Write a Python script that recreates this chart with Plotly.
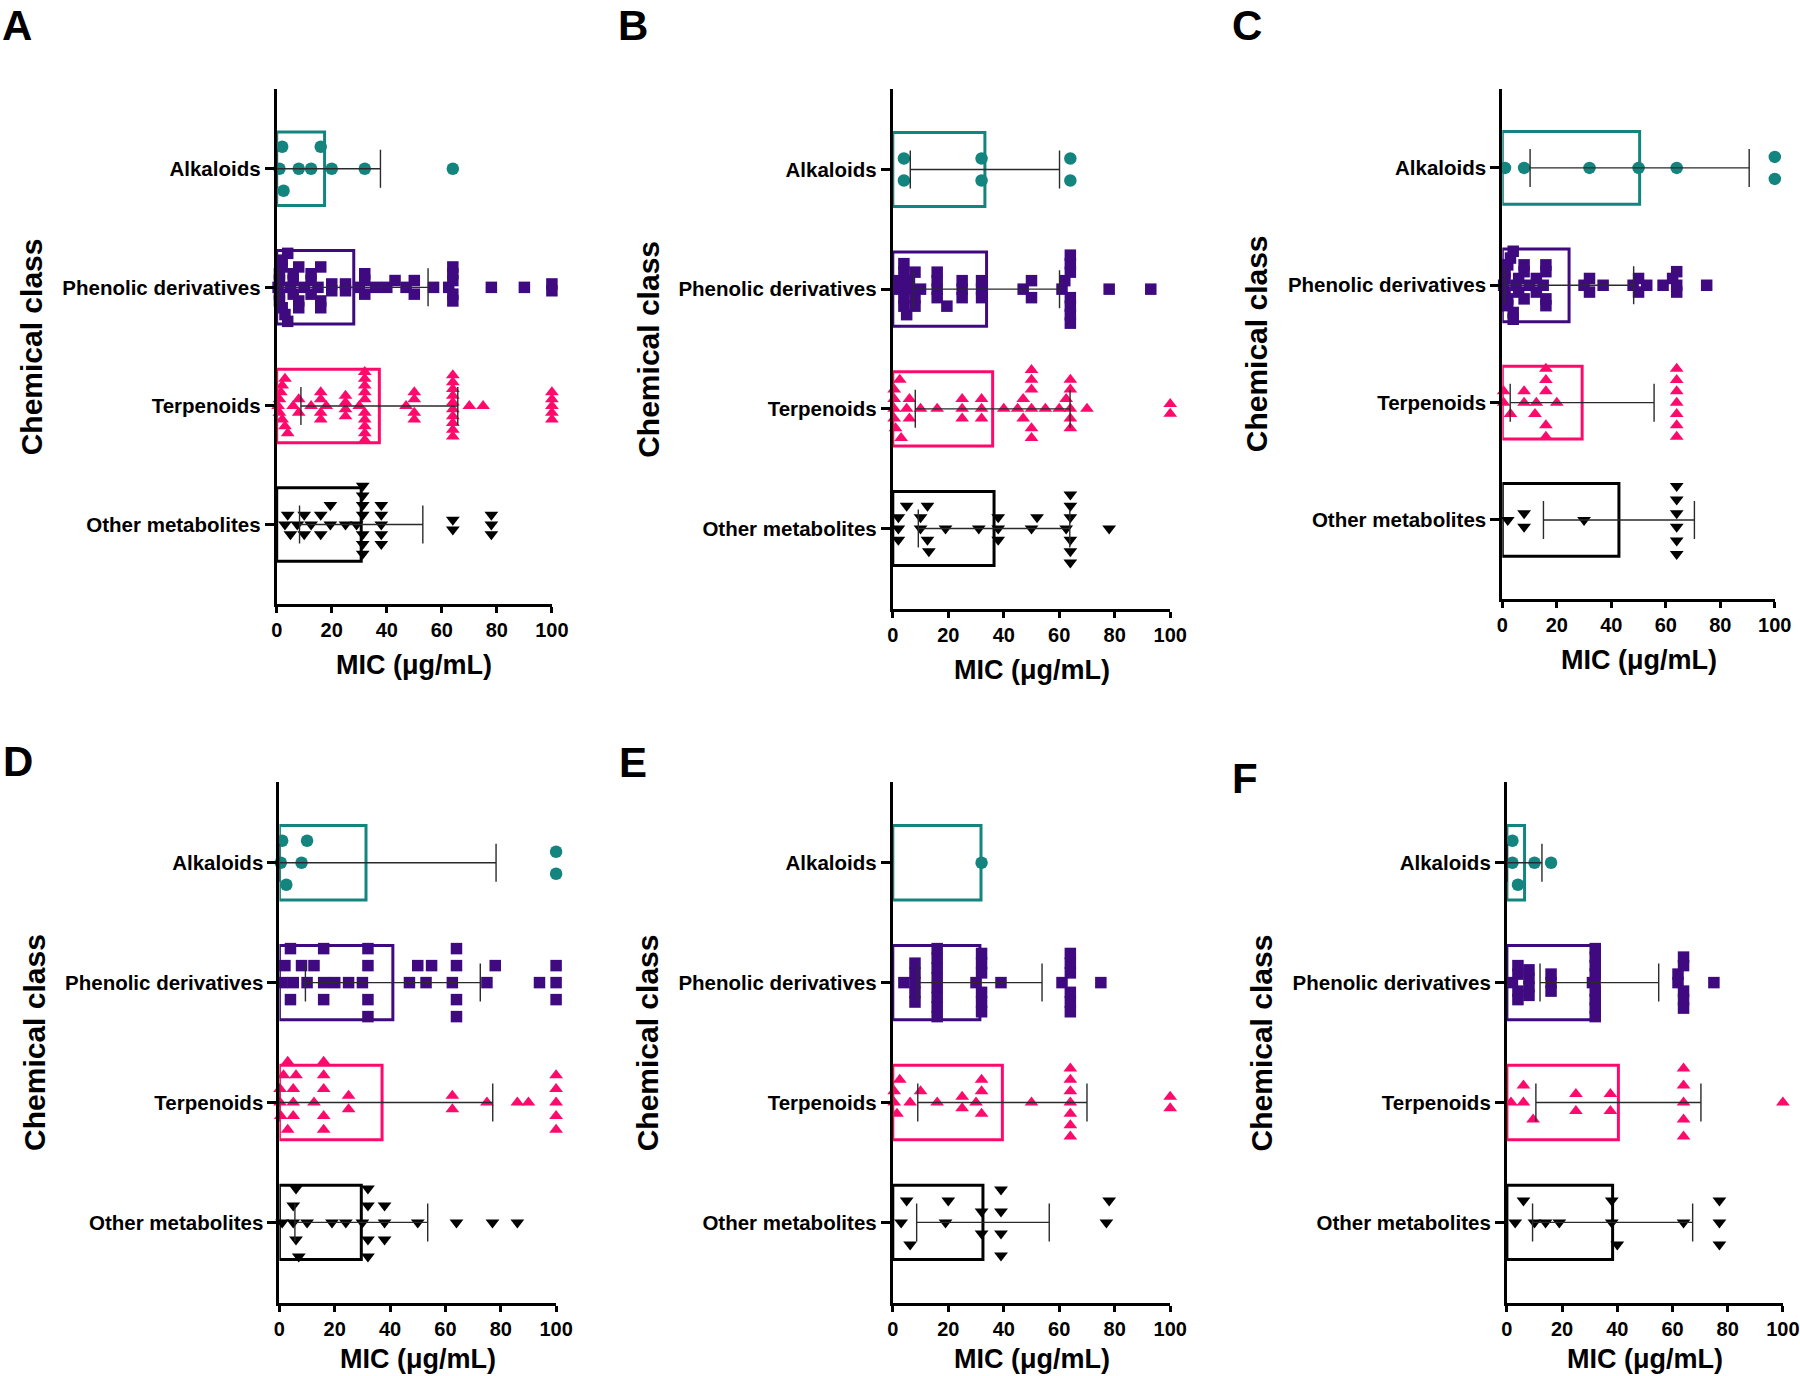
import plotly.graph_objects as go

W, H = 1800, 1376

categories = ["Alkaloids", "Phenolic derivatives", "Terpenoids", "Other metabolites"]
x_ticks = [0, 20, 40, 60, 80, 100]
panel_labels = ["A", "B", "C", "D", "E", "F"]
x_title = "MIC (μg/mL)"
y_title = "Chemical class"

# ---------------- data (MIC values, µg/mL) ----------------
A_alkaloids = [2, 16, 2.5, 8, 12.5, 20, 32, 64, 1]
A_phenolics = [0.5, 1, 1, 1, 1, 2, 2, 2, 3, 4, 4, 5, 6, 6, 6, 8, 8, 8, 10, 12.5, 12.5, 12.5, 15, 16, 16, 16,
               20, 20, 25, 25, 30, 32, 32, 32, 36, 40, 43, 47, 50, 50, 57, 62.5, 64, 64, 64, 64, 64, 78, 90, 100, 100]
A_terpenoids = [0.5, 1, 1, 1.5, 2, 2, 3, 3, 4, 6, 8, 8, 12.5, 16, 16, 16, 16, 18, 25, 25, 25, 25, 30,
                32, 32, 32, 32, 32, 32, 32, 32, 32, 32, 47, 50, 50, 50, 50,
                64, 64, 64, 64, 64, 64, 64, 64, 64, 64, 70, 75, 100, 100, 100, 100, 100]
A_others = [3, 5, 7.5, 4, 10, 10, 12.5, 16, 16, 19.5, 19.5, 25, 29, 31.25, 31.25, 31.25, 31.25, 31.25, 31.25,
            31.25, 38, 38, 38, 38, 38, 64, 64, 78, 78, 78]
A_mean = [17.4, 28.0, 37.3, 30.7]
A_sd = [20.3, 27.0, 28.5, 22.4]

B_alkaloids = [4, 4, 32, 32, 64, 64]
B_phenolics = [2, 2, 4, 4, 4, 4, 5, 6, 6, 8, 8, 8, 10, 16, 16, 16, 16, 19.5, 25, 25, 25, 32, 32, 32, 47, 50, 50,
               61, 62, 64, 64, 64, 64, 64, 64, 64, 78, 93]
B_terpenoids = [0.5, 0.5, 0.5, 0.5, 1, 2.5, 3, 5, 6, 6, 10, 16, 25, 25, 25, 32, 32, 32, 40, 45, 47, 47,
                50, 50, 50, 50, 50, 50, 55, 60, 62.5, 64, 64, 64, 64, 64, 70, 100, 100]
B_others = [2, 2, 2, 5, 10, 10, 12.5, 12.5, 13, 19, 31, 38, 38, 38, 50, 52, 62.5, 64, 64, 64, 64, 64, 64, 78]
B_mean = [33.2, 33.8, 36.0, 36.5]
B_sd = [26.9, 26.3, 27.9, 27.3]

C_alkaloids = [1, 8, 32, 50, 64, 100, 100]
C_phenolics = [0.5, 1, 1, 1, 2, 2, 2, 3, 4, 4, 4, 5, 6, 6, 8, 8, 8, 10, 12.5, 12.5, 15, 16, 16, 16, 16,
               30, 32, 32, 37, 48, 50, 50, 53, 59, 62.5, 64, 64, 64, 75]
C_terpenoids = [0.5, 0.5, 3, 8, 8, 12, 12.5, 16, 16, 16, 16, 16, 20, 64, 64, 64, 64, 64, 64, 64]
C_others = [2, 8, 8, 30, 64, 64, 64, 64, 64, 64]
C_mean = [50.4, 24.5, 29.3, 42.8]
C_sd = [40.2, 23.7, 26.4, 27.7]

D_alkaloids = [1, 2.5, 8, 0.5, 10, 100, 100]
D_phenolics = [1, 8, 16, 32, 64, 4, 12.5, 20, 32, 50, 62.5, 100, 4, 10, 25, 30, 47, 55, 64, 75, 94, 100,
               5, 16, 32, 53, 64, 78, 100, 2, 16, 32, 64]
D_terpenoids = [1.5, 6, 16, 0.25, 5, 3, 16, 25, 0.5, 5, 12.5, 16, 25, 3, 16, 0.25, 5, 16, 62.5, 62.5, 75, 86,
                90, 100, 100, 100, 100, 100]
D_others = [6, 32, 5, 10, 32, 38, 6, 19, 24, 32, 38, 50, 1, 5, 30, 38, 7, 32, 64, 77, 86]
D_mean = [31.3, 41.0, 37.1, 29.6]
D_sd = [47.0, 31.6, 40.0, 24.0]

E_alkaloids = [32]
E_phenolics = [4, 8, 8, 8, 8, 8, 16, 16, 16, 16, 16, 16, 16, 16, 30, 32, 32, 32, 32, 32, 32, 39, 61,
               64, 64, 64, 64, 64, 64, 75]
E_terpenoids = [0.5, 2.5, 1.5, 6.25, 0.5, 10, 16, 25, 25, 30, 32, 32, 32, 50, 64, 64, 64, 64, 64, 64, 64, 100, 100]
E_others = [5, 6.25, 3, 19, 20, 32, 32, 39, 39, 39, 39, 78, 77]
E_mean = [31.8, 31.4, 39.5, 32.5]
E_sd = [0, 22.4, 30.5, 23.9]

F_alkaloids = [2, 4, 10, 16, 2]
F_phenolics = [2, 4, 4, 4, 4, 8, 8, 8, 8, 16, 16, 16, 31, 32, 32, 32, 32, 32, 32, 32, 32, 62, 62,
               64, 64, 64, 64, 64, 75]
F_terpenoids = [1.5, 6, 6, 9.5, 25, 25, 37.5, 37.5, 64, 64, 64, 64, 64, 100]
F_others = [6, 10, 14, 19, 3, 40, 38, 38, 64, 77, 77, 77]
F_mean = [6.4, 33.5, 40.4, 38.3]
F_sd = [6.3, 21.5, 29.9, 29.0]

panels = [
    ([A_alkaloids, A_phenolics, A_terpenoids, A_others], A_mean, A_sd),
    ([B_alkaloids, B_phenolics, B_terpenoids, B_others], B_mean, B_sd),
    ([C_alkaloids, C_phenolics, C_terpenoids, C_others], C_mean, C_sd),
    ([D_alkaloids, D_phenolics, D_terpenoids, D_others], D_mean, D_sd),
    ([E_alkaloids, E_phenolics, E_terpenoids, E_others], E_mean, E_sd),
    ([F_alkaloids, F_phenolics, F_terpenoids, F_others], F_mean, F_sd),
]

# ---------------- styling / layout ----------------
colors = ["#14847e", "#3f0a80", "#ff0a6c", "#000000"]
symbols = ["circle", "square", "triangle-up", "triangle-down"]
msizes = [12.5, 11.5, 12, 12]
FONT = "Liberation Sans, Arial, Helvetica, sans-serif"

# plot areas in pixels: (x_left, x_right, y_top, y_bottom)
geom = [
    (276.7, 551.9, 89.3, 604.0),
    (892.8, 1170.2, 89.3, 608.7),
    (1502.3, 1774.8, 89.3, 598.6),
    (279.4, 556.1, 782.4, 1302.7),
    (892.8, 1170.2, 782.4, 1302.7),
    (1506.9, 1782.9, 782.4, 1302.7),
]
# panel letters: (left x, top y of text box) in pixels
letter_pos = [(0, 0), (616, 0), (1230, 0), (1, 736), (617, 737), (1230, 753)]
# x-title distance below the x axis (px)
xtitle_gap = [61, 61, 61, 56, 56, 56]
Y_LO, Y_HI = -0.67, 3.67


def px(xp):
    return xp / W


def py(yp):
    return 1 - yp / H


def swarm_rows(vals, ppu, mpx=11):
    """Deterministic beeswarm: rows of stacked markers (positive = up)."""
    order = sorted(range(len(vals)), key=lambda i: (vals[i], i))
    rows = [0.0] * len(vals)
    placed = []
    cands = [0]
    for k in range(1, 60):
        cands += [k, -k]
    for i in order:
        xp = vals[i] * ppu
        chosen = 0
        for r in cands:
            if all(not (pr == r and abs(pxv - xp) < mpx) for pxv, pr in placed):
                chosen = r
                break
        rows[i] = float(chosen)
        placed.append((xp, chosen))
    groups = {}
    for i, v in enumerate(vals):
        groups.setdefault(v, []).append(i)
    for v, idx in groups.items():
        if len(idx) < 2:
            continue
        near = [j for j in range(len(vals)) if vals[j] != v and abs(vals[j] - v) * ppu < mpx]
        if near:
            continue
        rs = [rows[j] for j in idx]
        shift = (max(rs) + min(rs)) / 2
        for j in idx:
            rows[j] -= shift
    return rows


fig = go.Figure()
annotations = []
layout_axes = {}

for p, (series, means, sds) in enumerate(panels):
    x0, x1, yt, yb = geom[p]
    xname = "x" if p == 0 else f"x{p + 1}"
    yname = "y" if p == 0 else f"y{p + 1}"
    xkey = "xaxis" if p == 0 else f"xaxis{p + 1}"
    ykey = "yaxis" if p == 0 else f"yaxis{p + 1}"
    ppu = (x1 - x0) / 100.0
    cat_px = (yb - yt) / (Y_HI - Y_LO)

    # hollow bars (means)
    fig.add_trace(go.Bar(
        x=means, y=list(range(len(categories))), orientation="h", width=0.62,
        marker=dict(color="rgba(0,0,0,0)", line=dict(color=colors, width=3)),
        xaxis=xname, yaxis=yname, showlegend=False, hoverinfo="skip"))

    # individual points
    for c, vals in enumerate(series):
        rows = swarm_rows(vals, ppu)
        span = max(rows) - min(rows)
        step = min(22.0, 68.0 / span) if span > 0 else 22.0
        ys = [c - r * step / cat_px for r in rows]
        fig.add_trace(go.Scatter(
            x=vals, y=ys, mode="markers", cliponaxis=False,
            marker=dict(symbol=symbols[c], size=msizes[c], color=colors[c], line=dict(width=0)),
            xaxis=xname, yaxis=yname, showlegend=False, hoverinfo="skip"))

    # error bars (mean ± SD)
    ex, ey, eplus, eminus = [], [], [], []
    for c in range(len(categories)):
        if sds[c] > 0:
            ex.append(means[c])
            ey.append(c)
            eplus.append(sds[c])
            eminus.append(min(sds[c], means[c]))
    fig.add_trace(go.Scatter(
        x=ex, y=ey, mode="markers", marker=dict(size=1, color="rgba(0,0,0,0)"),
        error_x=dict(type="data", symmetric=False, array=eplus, arrayminus=eminus,
                     color="#2a2a2a", thickness=1.4, width=19),
        xaxis=xname, yaxis=yname, showlegend=False, hoverinfo="skip"))

    layout_axes[xkey] = dict(
        domain=[px(x0), px(x1)], anchor=yname, range=[0, 100], automargin=False,
        tickmode="array", tickvals=x_ticks, ticktext=[str(t) for t in x_ticks],
        showline=True, linewidth=3, linecolor="black",
        ticks="outside", ticklen=6, tickwidth=3, tickcolor="black",
        showgrid=False, zeroline=False,
        tickfont=dict(family=FONT, size=20, color="black", weight="bold"))
    layout_axes[ykey] = dict(
        domain=[py(yb), py(yt)], anchor=xname, range=[Y_HI, Y_LO], automargin=False,
        tickmode="array", tickvals=list(range(len(categories))), ticktext=categories,
        showline=True, linewidth=3, linecolor="black",
        ticks="outside", ticklen=9, tickwidth=3, tickcolor="black",
        showgrid=False, zeroline=False,
        tickfont=dict(family=FONT, size=20.5, color="black", weight="bold"))

    # panel letter
    lx, ly = letter_pos[p]
    annotations.append(dict(
        text=panel_labels[p], x=px(lx), y=py(ly), xref="paper", yref="paper",
        xanchor="left", yanchor="top", showarrow=False,
        font=dict(family=FONT, size=42, color="black", weight="bold")))
    # y title
    annotations.append(dict(
        text=y_title, x=px(x0 - 245), y=py((yt + yb) / 2), xref="paper", yref="paper",
        xanchor="center", yanchor="middle", textangle=-90, showarrow=False,
        font=dict(family=FONT, size=30, color="black", weight="bold")))
    # x title
    annotations.append(dict(
        text=x_title, x=px((x0 + x1) / 2), y=py(yb + xtitle_gap[p]), xref="paper", yref="paper",
        xanchor="center", yanchor="middle", showarrow=False,
        font=dict(family=FONT, size=27, color="black", weight="bold")))

fig.update_layout(
    width=W, height=H, margin=dict(l=0, r=0, t=0, b=0, autoexpand=False),
    paper_bgcolor="white", plot_bgcolor="white",
    showlegend=False, barmode="overlay",
    annotations=annotations, font=dict(family=FONT, color="black"),
    **layout_axes)

fig.write_html("out.html", config={"displayModeBar": False},
               post_script="document.body.style.margin='0';document.body.style.overflow='hidden';")
